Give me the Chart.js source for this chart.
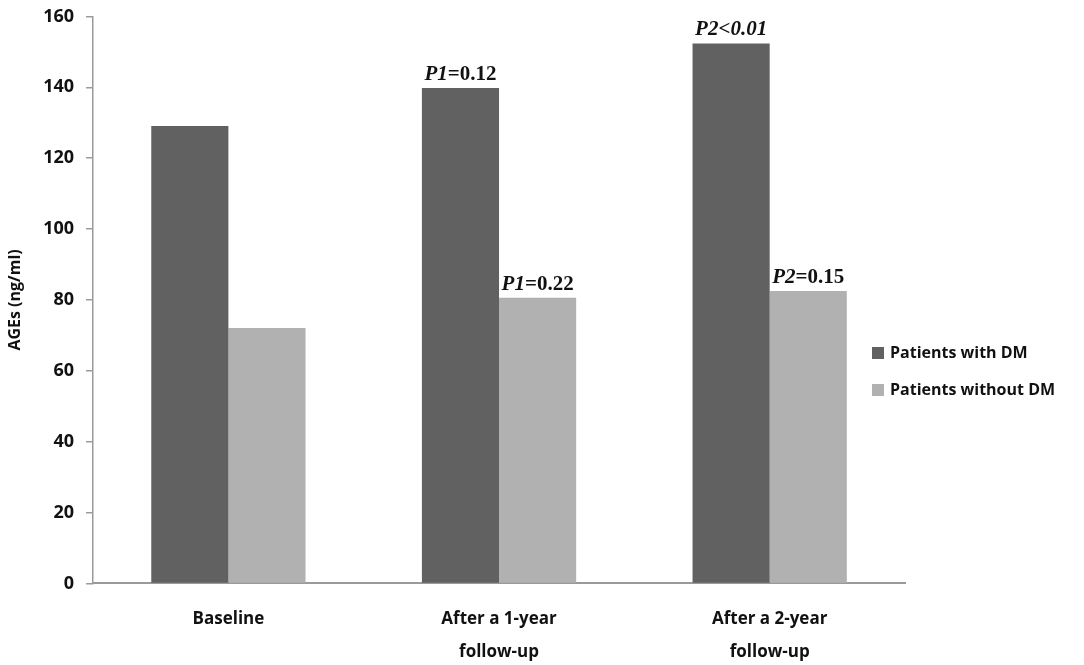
<!DOCTYPE html>
<html>
<head>
<meta charset="utf-8">
<script src="https://cdn.jsdelivr.net/npm/chart.js@4.4.0/dist/chart.umd.min.js"></script>
<style>
  html, body { margin: 0; padding: 0; background: #fff; }
  #wrap { width: 1084px; height: 665px; }
</style>
</head>
<body>
<div id="wrap"><canvas id="chart"></canvas></div>
<script>
// data
const categories = ['Baseline', ['After a 1-year', 'follow-up'], ['After a 2-year', 'follow-up']];
const withDM = [129.1, 139.8, 152.4];
const withoutDM = [72.1, 80.6, 82.5];
const yTicks = [0, 20, 40, 60, 80, 100, 120, 140, 160];

// p-value notes above bars: [italic part, plain part]
const notesWithDM = [null, ['P1', '=0.12'], ['P2<0.01', '']];
const notesWithoutDM = [null, ['P1', '=0.22'], ['P2', '=0.15']];

const dark = '#616161';
const light = '#b1b1b1';
const axisGrey = '#9a9a9a';
const textFont = '"Open Sans", sans-serif';

// p-values written on top of bars
const pNotes = {
  id: 'pNotes',
  afterDatasetsDraw(chart) {
    const ctx = chart.ctx;
    const allNotes = [notesWithDM, notesWithoutDM];
    ctx.save();
    ctx.fillStyle = '#111';
    ctx.textBaseline = 'alphabetic';
    allNotes.forEach((notes, di) => {
      const bars = chart.getDatasetMeta(di).data;
      notes.forEach((n, i) => {
        if (!n) return;
        const bar = bars[i];
        const italic = 'italic bold 21px "Liberation Serif", "Times New Roman", serif';
        const plain = 'bold 21px "Liberation Serif", "Times New Roman", serif';
        ctx.font = italic;
        const w1 = ctx.measureText(n[0]).width;
        ctx.font = plain;
        const w2 = ctx.measureText(n[1]).width;
        let x = bar.x - (w1 + w2) / 2;
        const y = bar.y - 8;
        ctx.textAlign = 'left';
        ctx.font = italic;
        ctx.fillText(n[0], x, y);
        ctx.font = plain;
        ctx.fillText(n[1], x + w1, y);
      });
    });
    ctx.restore();
  }
};

// legend drawn by hand so it can sit right next to the plot
const sideLegend = {
  id: 'sideLegend',
  afterDraw(chart) {
    const ctx = chart.ctx;
    ctx.save();
    ctx.font = 'bold 16px ' + textFont;
    ctx.textBaseline = 'middle';
    ctx.textAlign = 'left';
    chart.data.datasets.forEach((ds, i) => {
      const y = 353 + i * 37;
      ctx.fillStyle = ds.backgroundColor;
      ctx.fillRect(872, y - 6, 12, 12);
      ctx.fillStyle = '#111';
      ctx.fillText(ds.label, 890, y);
    });
    ctx.restore();
  }
};

new Chart(document.getElementById('chart'), {
  type: 'bar',
  data: {
    labels: categories,
    datasets: [
      { label: 'Patients with DM', data: withDM, backgroundColor: dark },
      { label: 'Patients without DM', data: withoutDM, backgroundColor: light }
    ]
  },
  options: {
    responsive: true,
    maintainAspectRatio: false,
    animation: false,
    layout: { padding: { top: -4, right: 179, left: 2, bottom: -15 } },
    datasets: { bar: { categoryPercentage: 0.57, barPercentage: 1.0 } },
    plugins: {
      legend: { display: false },
      tooltip: { enabled: false }
    },
    scales: {
      x: {
        grid: { display: false },
        border: { color: axisGrey, width: 2 },
        ticks: {
          color: '#111',
          font: { family: textFont, weight: 'bold', size: 17, lineHeight: 1.9 },
          padding: 12,
          maxRotation: 0
        }
      },
      y: {
        min: 0,
        max: 160,
        afterBuildTicks(axis) { axis.ticks = yTicks.map(v => ({ value: v })); },
        grid: { drawOnChartArea: false, color: axisGrey, tickLength: 7, lineWidth: 1.5 },
        border: { color: axisGrey, width: 1.5 },
        ticks: {
          color: '#111',
          font: { family: textFont, weight: 'bold', size: 18, lineHeight: 0.5 },
          padding: 12
        },
        title: {
          display: true,
          text: 'AGEs (ng/ml)',
          color: '#111',
          font: { family: textFont, weight: 'bold', size: 16 },
          padding: { bottom: 6 }
        }
      }
    }
  },
  plugins: [pNotes, sideLegend]
});
</script>
</body>
</html>
